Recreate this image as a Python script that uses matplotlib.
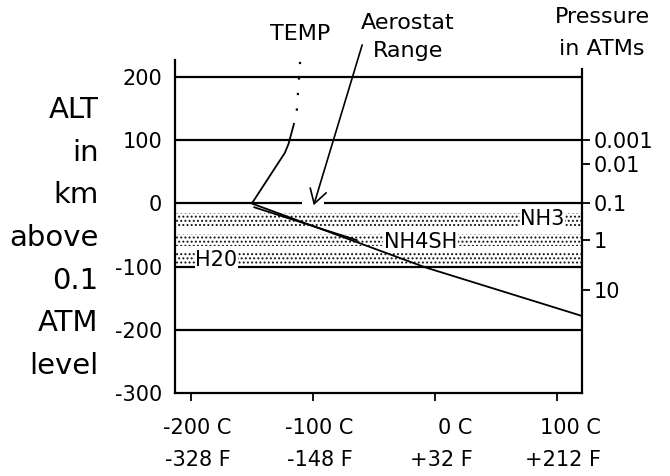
import numpy as np
import matplotlib.pyplot as plt
from matplotlib.patches import FancyArrowPatch
from matplotlib.transforms import ScaledTranslation

plt.rcParams['hatch.linewidth'] = 0.9

# altitude grid (km above 0.1 ATM level)
alt_grid = [200, 100, 0, -100, -200]
alt_ticks = [200, 100, 0, -100, -200, -300]

# temperature axis ticks
temp_ticks = [-200, -100, 0, 100]
temp_labels = ['-200 C\n-328 F', '-100 C\n-148 F', '0 C\n+32 F', '100 C\n+212 F']

# pressure scale on the right (placed at altitude)
press_alt = [100, 63, 0, -57, -137]
press_labels = ['0.001', '0.01', '0.1', '1', '10']

# temperature profile
temp_upper_T = [-110.5, -113.5]
temp_upper_alt = [224, 138]
temp_T = [-115.5, -120, -123, -150, -8, 120.5]
temp_alt = [126, 94, 80, 0, -101, -178]
temp2_T = [-148, -64]
temp2_alt = [-6, -58]

# cloud layers
cloud_names = ['NH3', 'NH4SH', 'H20']
cloud_top = [-15, -48, -78]
cloud_bot = [-36, -68, -98]
cloud_label_T = [88, -12, -179]
cloud_label_alt = [-24, -61, -90]

# aerostat range arrow
aero_T = [-59, -100]
aero_alt = [255, -7]

fig = plt.figure(figsize=(6.7, 4.76), dpi=100)
ax = fig.add_axes([0.261, 0.174, 0.608, 0.700])
ax.set_xlim(-213, 120.5)
ax.set_ylim(-300, 227)

for a in alt_grid:
    ax.axhline(a, color='black', lw=1.6, zorder=2)

for top, bot in zip(cloud_top, cloud_bot):
    ax.fill_between([-213, 120.5], top, bot, facecolor='white', edgecolor='#111111',
                    hatch='....', linewidth=0, zorder=1)
for name, t, a in zip(cloud_names, cloud_label_T, cloud_label_alt):
    ax.text(t, a, name, fontsize=15, ha='center', va='center', zorder=3,
            bbox=dict(fc='white', ec='none', pad=0.5))

ax.plot(temp_upper_T, temp_upper_alt, color='black', lw=1.6, ls=(0, (1, 6)), zorder=4)
ax.plot(temp_T, temp_alt, color='black', lw=1.3, zorder=4)
ax.plot(temp2_T, temp2_alt, color='black', lw=1.3, zorder=4)

# gap in the 0 line behind the arrow head
ax.hlines(0, aero_T[1] - 9, aero_T[1] + 9, color='white', lw=4, zorder=2.5)
arrow = FancyArrowPatch((aero_T[0], aero_alt[0]), (aero_T[1], aero_alt[1]),
                        arrowstyle='->,head_length=5,head_width=3', color='black',
                        lw=1.2, zorder=5, clip_on=False, mutation_scale=2)
ax.add_patch(arrow)

ax.set_yticks(alt_ticks)
ax.set_yticklabels([str(v) for v in alt_ticks], fontsize=15)
ax.tick_params(axis='y', length=0, pad=9)
ax.set_xticks(temp_ticks)
ax.set_xticklabels(temp_labels, fontsize=15, multialignment='right', linespacing=1.75)
ax.tick_params(axis='x', length=6, width=1.3, direction='out', pad=12)
shift = ScaledTranslation(6 / 100, 0, fig.dpi_scale_trans)
for lab in ax.get_xticklabels():
    lab.set_transform(lab.get_transform() + shift)

for s in ['left', 'bottom', 'right']:
    ax.spines[s].set_linewidth(1.6)
ax.spines['top'].set_visible(False)
ax.spines['right'].set_bounds(-300, 213)

axr = ax.twinx()
axr.set_ylim(ax.get_ylim())
axr.set_yticks(press_alt)
axr.set_yticklabels(press_labels, fontsize=15)
axr.tick_params(axis='y', length=6, width=1.3, direction='out', pad=2)
for s in axr.spines.values():
    s.set_visible(False)

fig.text(0.147, 1 - 238 / 476, 'ALT\nin\nkm\nabove\n0.1\nATM\nlevel', fontsize=21,
         ha='right', va='center', multialignment='right', linespacing=1.67)
fig.text(300 / 670, 1 - 34 / 476, 'TEMP', fontsize=16, ha='center', va='center')
fig.text(408 / 670, 1 - 37 / 476, 'Aerostat\nRange', fontsize=16, ha='center',
         va='center', linespacing=1.55)
fig.text(602 / 670, 1 - 33 / 476, 'Pressure\nin ATMs', fontsize=16, ha='center',
         va='center', linespacing=1.7)

fig.savefig('out.png', dpi=100)
